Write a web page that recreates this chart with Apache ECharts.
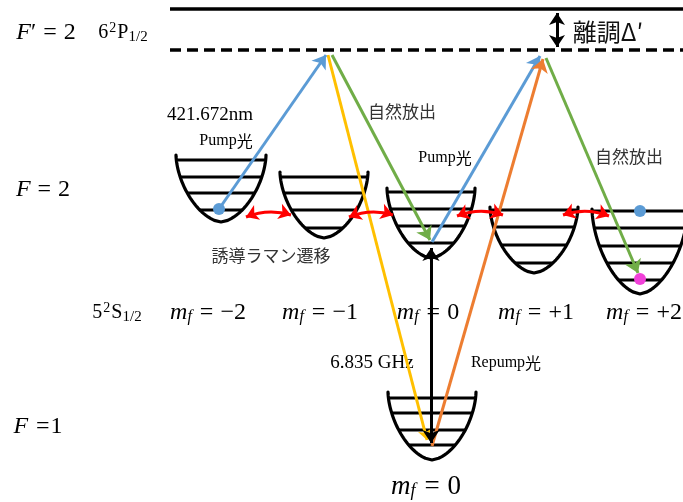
<!DOCTYPE html>
<html>
<head>
<meta charset="utf-8">
<script src="https://cdn.jsdelivr.net/npm/echarts@6/dist/echarts.min.js"></script>
<style>
  html, body { margin: 0; padding: 0; background: #fff; }
  #chart { width: 683px; height: 502px; }
</style>
</head>
<body>
<div id="chart"></div>
<script>
// Energy-level diagram drawn in a 683 x 502 diagram coordinate space.

// Potential wells (sub-levels): F=2 m_f=-2..+2 and F=1 m_f=0
const wellCenterX   = [221, 324, 431, 534, 640, 432];
const wellRimY      = [155, 172, 188, 207, 209, 392];
const wellHalfWidth = [45, 44, 44, 44, 48, 44];
const wellDepth     = [67, 66, 70, 66, 85, 68];
const wellLevels = [
  [160, 177, 193, 210],
  [177, 193, 210, 228],
  [192, 209, 226, 243],
  [210, 227, 245, 263],
  [211, 228, 246, 263, 280],
  [398, 413, 430, 445]
];

// Excited level (solid) and detuned virtual level (dashed)
const upperLevelY   = 9;
const virtualLevelY = 50;
const levelStartX   = 170;
const levelEndX     = 683;

// Optical transitions: [fromX, fromY, toX, toY]
const pumpBeams     = [[219, 209, 326, 55], [432, 242, 540, 56]];
const emissions     = [[332, 55, 430, 240], [546, 58, 638, 273]];
const emissionToF1  = [[328, 55, 427, 440]];
const repumpBeam    = [[432, 446, 543, 59]];
const hyperfineGap  = [[431, 248, 431, 443]];
const detuningArrow = [[557, 13, 557, 47]];
const ramanPairs    = [[246, 217, 291, 215], [349, 217, 393, 215], [457, 216, 503, 215], [563, 215, 609, 216]];

// Atom markers
const blueAtoms    = [[219, 209], [640, 211]];
const magentaAtoms = [[640, 279]];

// Text annotations: [x, y, text]
const textLabels = [
  [46, 33, '{it|F}{rm|′}{op|=}{rm|2}'],
  [123, 33, '{s|6}{sup|2}{s|P}{sub|1/2}'],
  [210, 115, '{t|421.672nm}'],
  [226, 141, '{p|Pump}{j|光}'],
  [402, 112, '{ja|自然放出}'],
  [445, 158, '{p|Pump}{j|光}'],
  [629, 157, '{ja|自然放出}'],
  [43, 190, '{it|F}{op|=}{rm|2}'],
  [271, 256, '{ja|誘導ラマン遷移}'],
  [117, 313, '{s|5}{sup|2}{s|S}{sub|1/2}'],
  [208, 313, '{it|m}{isub|f}{op|=}{rm|−2}'],
  [320, 313, '{it|m}{isub|f}{op|=}{rm|−1}'],
  [428, 313, '{it|m}{isub|f}{op|=}{rm|0}'],
  [536, 313, '{it|m}{isub|f}{op|=}{rm|+1}'],
  [644, 313, '{it|m}{isub|f}{op|=}{rm|+2}'],
  [372, 363, '{t|6.835 GHz}'],
  [506, 363, '{p|Repump}{j|光}'],
  [38, 427, '{it|F}{opl|=}{rm|1}'],
  [426, 487, '{itL|m}{isubL|f}{opL|=}{rmL|0}'],
  [608, 32, '{jl|離調Δ′}']
];

const SERIF = "'Liberation Serif', 'DejaVu Serif', serif";
const CJK = "'Noto Sans CJK JP', sans-serif";

const richStyles = {
  it:   { fontFamily: SERIF, fontStyle: 'italic', fontSize: 24, color: '#000' },
  rm:   { fontFamily: SERIF, fontSize: 24, color: '#000' },
  op:   { fontFamily: SERIF, fontSize: 24, color: '#000', padding: [0, 7, 0, 7] },
  opl:  { fontFamily: SERIF, fontSize: 24, color: '#000', padding: [0, 1, 0, 8] },
  isub: { fontFamily: SERIF, fontStyle: 'italic', fontSize: 16, color: '#000', verticalAlign: 'bottom', padding: [8, 1, 0, 0] },
  itL:  { fontFamily: SERIF, fontStyle: 'italic', fontSize: 27, color: '#000' },
  rmL:  { fontFamily: SERIF, fontSize: 27, color: '#000' },
  opL:  { fontFamily: SERIF, fontSize: 27, color: '#000', padding: [0, 8, 0, 8] },
  isubL:{ fontFamily: SERIF, fontStyle: 'italic', fontSize: 18, color: '#000', verticalAlign: 'bottom', padding: [9, 1, 0, 0] },
  s:    { fontFamily: SERIF, fontSize: 20, color: '#000' },
  sup:  { fontFamily: SERIF, fontSize: 14, color: '#000', verticalAlign: 'top', padding: [0, 1, 8, 1] },
  sub:  { fontFamily: SERIF, fontSize: 15, color: '#000', verticalAlign: 'bottom', padding: [8, 0, 0, 0] },
  t:    { fontFamily: SERIF, fontSize: 19, color: '#000' },
  p:    { fontFamily: SERIF, fontSize: 16, color: '#000' },
  j:    { fontFamily: CJK, fontSize: 16, color: '#000' },
  ja:   { fontFamily: CJK, fontSize: 17, color: '#333' },
  jl:   { fontFamily: CJK, fontSize: 24, color: '#111' }
};

function toLines(list, color) {
  return list.map(function (d) {
    return { coords: [[d[0], d[1]], [d[2], d[3]]], lineStyle: { color: color } };
  });
}

// Well outline: steep walls at the rim, rounded bottom
function wellHalfSpan(i, y) {
  const t = Math.min(Math.max((y - wellRimY[i]) / wellDepth[i], 0), 1);
  return wellHalfWidth[i] * Math.pow(1 - Math.pow(t, 1.7), 0.6);
}

function renderWell(params, api) {
  const i = params.dataIndex;
  const cx = wellCenterX[i];
  const rim = wellRimY[i];
  const depth = wellDepth[i];
  const steps = 40;
  const left = [], right = [];
  for (let k = 0; k <= steps; k++) {
    const y = rim + depth * k / steps;
    const h = wellHalfSpan(i, y);
    left.push(api.coord([cx - h, y]));
    right.unshift(api.coord([cx + h, y]));
  }
  const children = [{
    type: 'polyline',
    shape: { points: left.concat(right.slice(1)) },
    style: { stroke: '#000', lineWidth: 3.2, fill: null, lineJoin: 'round', lineCap: 'round' }
  }];
  wellLevels[i].forEach(function (ly) {
    const h = wellHalfSpan(i, ly);
    const a = api.coord([cx - h, ly]);
    const b = api.coord([cx + h, ly]);
    children.push({
      type: 'line',
      shape: { x1: a[0], y1: a[1], x2: b[0], y2: b[1] },
      style: { stroke: '#000', lineWidth: 3.2 }
    });
  });
  return { type: 'group', children: children };
}

const chart = echarts.init(document.getElementById('chart'), null, { renderer: 'canvas' });

const arrowLineBase = {
  type: 'lines',
  coordinateSystem: 'cartesian2d',
  symbol: ['none', 'arrow'],
  symbolSize: 13,
  lineStyle: { width: 3, opacity: 1 },
  silent: true
};

chart.setOption({
  animation: false,
  backgroundColor: '#fff',
  grid: { left: 0, right: 0, top: 0, bottom: 0 },
  xAxis: { type: 'value', min: 0, max: 683, show: false },
  yAxis: { type: 'value', min: 0, max: 502, inverse: true, show: false },
  series: [
    {
      type: 'scatter',
      z: 1,
      symbolSize: 0,
      silent: true,
      itemStyle: { opacity: 1 },
      data: textLabels.map(function (d) {
        return {
          value: [d[0], d[1]],
          label: { show: true, position: 'inside', opacity: 1, formatter: d[2], rich: richStyles }
        };
      })
    },
    {
      type: 'lines',
      coordinateSystem: 'cartesian2d',
      z: 2,
      silent: true,
      symbol: 'none',
      lineStyle: { opacity: 1 },
      data: [
        { coords: [[levelStartX, upperLevelY], [levelEndX, upperLevelY]], lineStyle: { color: '#000', width: 3.5, type: 'solid', opacity: 1 } },
        { coords: [[levelStartX, virtualLevelY], [levelEndX, virtualLevelY]], lineStyle: { color: '#000', width: 3.5, type: [11, 6], opacity: 1 } }
      ]
    },
    {
      type: 'custom',
      z: 3,
      silent: true,
      renderItem: renderWell,
      data: wellCenterX.map(function (x, i) { return [x, wellRimY[i]]; }),
      encode: { x: 0, y: 1 }
    },
    Object.assign({}, arrowLineBase, { z: 4, symbolSize: 10, data: toLines(emissionToF1, '#FFC000') }),
    Object.assign({}, arrowLineBase, { z: 5, data: toLines(pumpBeams, '#5B9BD5') }),
    Object.assign({}, arrowLineBase, { z: 5, data: toLines(emissions, '#70AD47') }),
    Object.assign({}, arrowLineBase, { z: 5, data: toLines(repumpBeam, '#ED7D31') }),
    Object.assign({}, arrowLineBase, { z: 6, symbol: ['arrow', 'arrow'], symbolSize: 13, data: toLines(hyperfineGap, '#000') }),
    Object.assign({}, arrowLineBase, { z: 6, symbol: ['arrow', 'arrow'], symbolSize: 12, data: toLines(detuningArrow, '#000') }),
    Object.assign({}, arrowLineBase, {
      z: 6, symbol: ['arrow', 'arrow'], symbolSize: 12,
      lineStyle: { width: 3, opacity: 1, curveness: 0.18 },
      data: toLines(ramanPairs, '#FF0000')
    }),
    {
      type: 'scatter', z: 7, silent: true, symbolSize: 12,
      itemStyle: { color: '#5B9BD5', opacity: 1 },
      data: blueAtoms
    },
    {
      type: 'scatter', z: 7, silent: true, symbolSize: 12,
      itemStyle: { color: '#F040D8', opacity: 1 },
      data: magentaAtoms
    }
  ]
});
</script>
</body>
</html>
